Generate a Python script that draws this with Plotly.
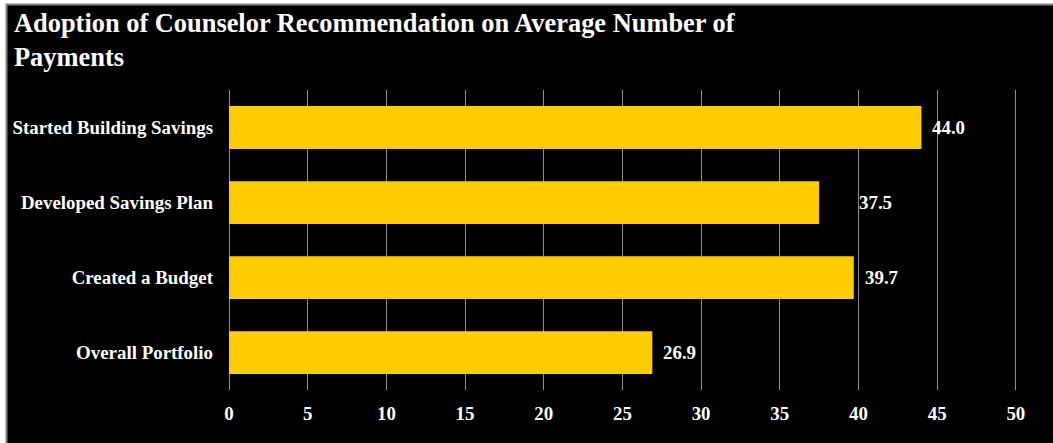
import plotly.graph_objects as go

# Data
categories = [
    "Started Building Savings",
    "Developed Savings Plan",
    "Created a Budget",
    "Overall Portfolio",
]
avg_payments = [44.0, 37.5, 39.7, 26.9]
x_ticks = [0, 5, 10, 15, 20, 25, 30, 35, 40, 45, 50]
x_max = 50.2

W, H = 1053, 443
ML, MR, MT, MB = 229, 34, 90, 53
PW, PH = W - ML - MR, H - MT - MB

FONT = "Liberation Serif, Times New Roman, serif"
GRID = "#8f8f8f"
TXT = 18.9

# label nudges (pixels) beyond the default gap after the bar end
LABEL_GAP = 9
LABEL_NUDGE = {"Developed Savings Plan": 29}


def px_x(p):
    return (p - ML) / PW


def px_y(p):
    return (H - MB - p) / PH


fig = go.Figure()
fig.add_trace(
    go.Bar(
        x=avg_payments,
        y=categories,
        orientation="h",
        marker=dict(color="#FFCC00", line=dict(width=0)),
        hoverinfo="skip",
    )
)

# value labels to the right of each bar
for cat, val in zip(categories, avg_payments):
    fig.add_annotation(
        x=val, y=cat, text=f"{val:.1f}", showarrow=False,
        xanchor="left", xshift=LABEL_GAP + LABEL_NUDGE.get(cat, 0),
        font=dict(family=FONT, size=TXT, color="white", weight="bold"),
    )

# framed black card with grey edge on top/left
fig.add_shape(
    type="rect", xref="paper", yref="paper", layer="below",
    x0=px_x(6.5), x1=px_x(W + 20), y0=px_y(H + 20), y1=px_y(4.5),
    fillcolor="black", line=dict(color="#808080", width=2),
)

fig.update_layout(
    width=W, height=H,
    margin=dict(l=ML, r=MR, t=MT, b=MB, pad=0),
    paper_bgcolor="white",
    plot_bgcolor="rgba(0,0,0,0)",
    showlegend=False,
    bargap=0.43,
    title=dict(
        text="Adoption of Counselor Recommendation on Average Number of<br>Payments",
        x=14 / W, xanchor="left", xref="container",
        y=1 - 32 / H, yanchor="top", yref="container",
        font=dict(family=FONT, size=26.4, color="white", weight="bold"),
    ),
    xaxis=dict(
        range=[0, x_max],
        tickvals=x_ticks,
        showgrid=True, gridcolor=GRID, gridwidth=1,
        zeroline=True, zerolinecolor=GRID, zerolinewidth=1,
        showline=False, ticks="",
        ticklabelstandoff=10,
        tickfont=dict(family=FONT, size=TXT, color="white", weight="bold"),
    ),
    yaxis=dict(
        categoryorder="array", categoryarray=categories,
        autorange="reversed",
        showgrid=False, zeroline=False, showline=False, ticks="",
        ticklabelstandoff=15,
        tickfont=dict(family=FONT, size=TXT, color="white", weight="bold"),
    ),
)

fig.write_html("out.html")
